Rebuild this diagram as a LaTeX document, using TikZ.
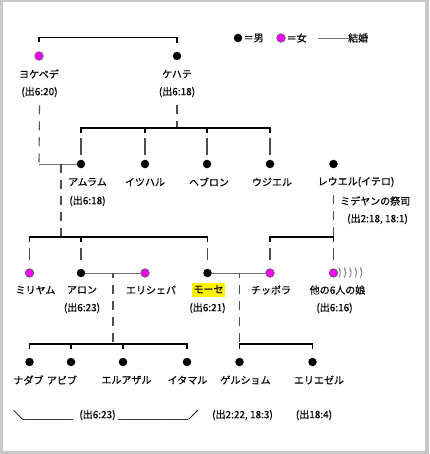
\documentclass[tikz,border=0pt]{standalone}
\usepackage{fontspec}
\setmainfont{Noto Sans CJK JP}[FakeBold=0.5]
\definecolor{mag}{RGB}{255,0,255}
\begin{document}
\begin{tikzpicture}[x=1pt,y=-1pt,
  male/.style={circle,fill=black,inner sep=0pt,minimum size=8.5pt},
  female/.style={circle,fill=mag,draw=black!65,line width=0.7pt,inner sep=0pt,minimum size=8.5pt},
  lbl/.style={font=\fontsize{10}{12}\selectfont,inner sep=0pt},
  bar/.style={line width=1.3pt,black},
  marry/.style={line width=0.8pt,black!55},
  desc/.style={line width=1.1pt,black!70,dash pattern=on 9pt off 7pt},
  seg/.style={line width=1.1pt,black!70}]
\useasboundingbox (0,0) rectangle (429,454);
\fill[black!22] (0,0) rectangle (429,454);
\fill[white] (3,2) rectangle (425,451);

% legend
\node[male] (lm) at (238,38) {};
\node[lbl,anchor=west] (lmt) at (243.5,38) {＝男};
\node[female] (lf) at (281,38) {};
\node[lbl,anchor=west] (lft) at (286.5,38) {＝女};
\coordinate (ll) at (318,38);
\node[lbl,anchor=west] (lmarry) at (348,38) {結婚};
\draw[marry] (ll) -- (lmarry.west);

% generation 1
\node[female] (yokebede) at (39,56) {};
\node[male] (kehate) at (177,56) {};
\node[lbl] (yokebedeN) at (39,74) {ヨケベデ};
\node[lbl] (yokebedeR) at (39.5,92) {(出6:20)};
\node[lbl] (kehateN) at (177,74) {ケハテ};
\node[lbl] (kehateR) at (177,92) {(出6:18)};
\draw[bar] ([yshift=9pt]yokebede.north) -- ++(0,-5) -| ([yshift=9pt]kehate.north);

% generation 2
\node[male] (amram) at (81,164) {};
\node[male] (izhar) at (145,164) {};
\node[male] (hebron) at (207,164) {};
\node[male] (uzziel) at (270,164) {};
\node[male] (reuel) at (333.5,164) {};
\node[lbl] (amramN) at (87.5,182) {アムラム};
\node[lbl] (amramR) at (87.5,201) {(出6:18)};
\node[lbl] (izharN) at (145,182) {イツハル};
\node[lbl] (hebronN) at (209,182) {ヘブロン};
\node[lbl] (uzzielN) at (272,182) {ウジエル};
\node[lbl] (reuelN) at (356,182) {レウエル(イテロ)};
\node[lbl,anchor=west] (reuelT) at (340,201) {ミデヤンの祭司};
\node[lbl,anchor=west] (reuelR) at (347,219) {(出2:18, 18:1)};

\coordinate (kbar) at (177,128);
\draw[desc] (kehateR.south) ++(0,8) -- (kbar);
\draw[bar] (amram |- kbar) ++(0,5) -- ++(0,-5) -- (uzziel |- kbar) -- ++(0,5);
\draw[bar] (izhar |- kbar) -- ++(0,5);
\draw[bar] (hebron |- kbar) -- ++(0,5);
\foreach \n in {amram,izhar,hebron,uzziel}
  \draw[seg] (\n |- kbar) ++(0,10) -- ([yshift=5pt]\n.north);

\draw[desc] (yokebedeR.south) ++(0,8) -- (yokebede |- amram);
\draw[marry] (yokebede |- amram) -- (amram);

% generation 3
\node[female] (miriam) at (29.5,273) {};
\node[male] (aaron) at (81,273) {};
\node[female] (elisheba) at (145,273) {};
\node[male] (moses) at (207.5,273) {};
\node[female] (zipporah) at (270,273) {};
\node[female] (daughters) at (333.5,273) {};
\node[lbl,anchor=west,text=black!50] (waves) at (338,272.5) {)\kern2pt)\kern2pt)\kern2pt)\kern2pt)};

\node[lbl] (miriamN) at (35.5,290) {ミリヤム};
\node[lbl] (aaronN) at (82,290) {アロン};
\node[lbl] (aaronR) at (82,308) {(出6:23)};
\node[lbl] (elishebaN) at (151,290) {エリシェバ};
\node[lbl,fill=yellow,inner xsep=1.5pt,inner ysep=2pt,text height=8pt,text depth=2pt] (mosesN) at (208.5,290) {モーセ};
\node[lbl] (mosesR) at (207.5,308) {(出6:21)};
\node[lbl] (zipporahN) at (271,290) {チッポラ};
\node[lbl] (daughtersN) at (337.5,290) {他の6人の娘};
\node[lbl] (daughtersR) at (334.5,308) {(出6:16)};

\coordinate (amj) at (61,164);
\coordinate (abar) at (61,237);
\draw[desc] (amj) -- (abar);
\draw[bar] (miriam |- abar) ++(0,5) -- ++(0,-5) -- (moses |- abar) -- ++(0,5);
\draw[bar] (aaron |- abar) -- ++(0,5);
\coordinate (rtop) at (333.5,195);
\draw[desc] (rtop) -- (daughters |- abar);
\draw[bar] (zipporah |- abar) ++(0,5) -- ++(0,-5) -- (daughters |- abar) -- ++(0,5);
\foreach \n in {miriam,aaron,moses,zipporah,daughters}
  \draw[seg] (\n |- abar) ++(0,11) -- ++(0,12);

\draw[marry] (aaron) -- (elisheba);
\draw[marry] (moses) -- (zipporah);

% generation 4
\node[male] (nadab) at (29.5,362) {};
\node[male] (abihu) at (71,362) {};
\node[male] (eleazar) at (123,362) {};
\node[male] (ithamar) at (187,362) {};
\node[male] (gershom) at (239.5,362) {};
\node[male] (eliezer) at (312.5,362) {};
\node[lbl] (nadabN) at (28.5,380) {ナダブ};
\node[lbl] (abihuN) at (62,380) {アビブ};
\node[lbl] (eleazarN) at (126.5,380) {エルアザル};
\node[lbl] (ithamarN) at (187.5,380) {イタマル};
\node[lbl] (gershomN) at (245.5,380) {ゲルショム};
\node[lbl] (eliezerN) at (319,380) {エリエゼル};

\coordinate (aej) at (113,273);
\coordinate (aebar) at (113,344);
\draw[seg] (aej) -- ++(0,5);
\draw[desc] (aej) ++(0,12) -- (aebar);
\draw[bar] (nadab |- aebar) ++(0,5) -- ++(0,-5) -- (ithamar |- aebar) -- ++(0,5);
\draw[bar] (abihu |- aebar) -- ++(0,5);
\draw[bar] (eleazar |- aebar) -- ++(0,5);

\coordinate (msj) at (239.5,273);
\coordinate (msbar) at (239.5,344);
\draw[seg] (msj) -- ++(0,5);
\draw[desc] (msj) ++(0,12) -- (msbar);
\draw[bar] (gershom |- msbar) ++(0,5) -- ++(0,-5) -- (eliezer |- msbar) -- ++(0,5);

% bottom references
\node[lbl,anchor=west] (b1) at (13,415) {＼＿＿＿＿＿};
\node[lbl] (b2) at (97.5,415) {(出6:23)};
\node[lbl,anchor=west] (b3) at (118,415) {＿＿＿＿＿＿＿／};
\node[lbl] (b4) at (242.5,415) {(出2:22, 18:3)};
\node[lbl] (b5) at (314,415) {(出18:4)};
\end{tikzpicture}
\end{document}
